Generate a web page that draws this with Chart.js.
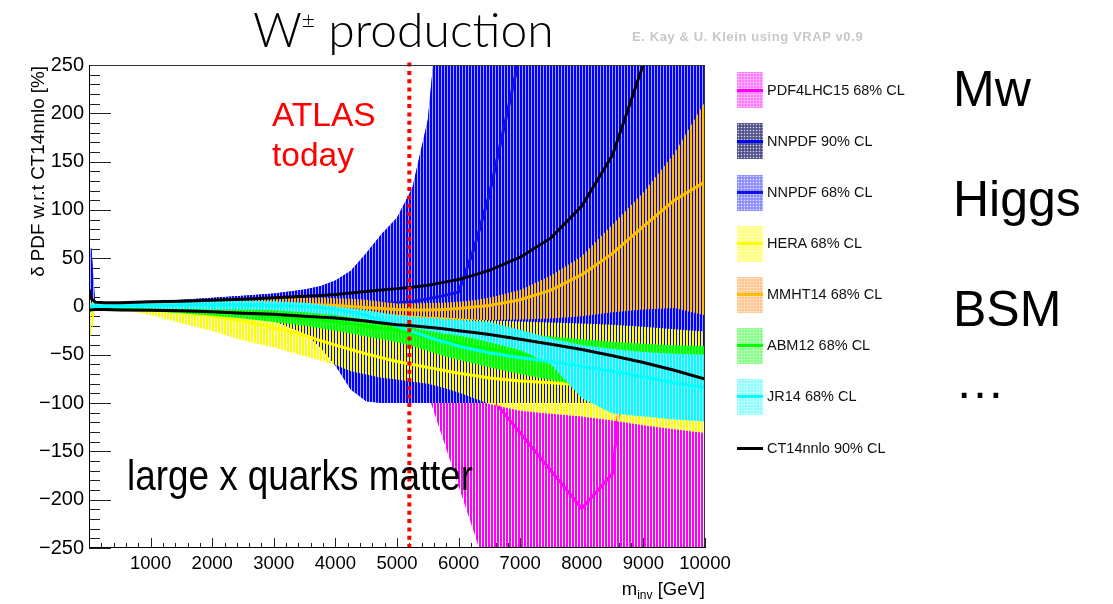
<!DOCTYPE html>
<html>
<head>
<meta charset="utf-8">
<script src="https://cdn.jsdelivr.net/npm/chart.js@4.4.1/dist/chart.umd.min.js"></script>
<style>
html,body{margin:0;padding:0;background:#fff;}
#wrap{position:relative;width:1113px;height:604px;overflow:hidden;font-family:"Liberation Sans",Arial,sans-serif;}
#c{position:absolute;left:0;top:0;}
.t{position:absolute;white-space:nowrap;line-height:1;}
.big{font-size:50px;color:#000;left:953px;}
.sw{position:absolute;left:737px;width:26px;height:36px;}
.sw i{position:absolute;left:0;right:0;top:16.5px;height:3px;}
.lt{position:absolute;left:767px;font-size:14.5px;line-height:1;white-space:nowrap;color:#111;}
</style>
</head>
<body>
<div id="wrap">
<canvas id="c" width="1113" height="604"></canvas>

<div class="t" style="left:253px;top:5px;font-family:Lato,'Open Sans',sans-serif;font-weight:300;font-size:48px;color:#000;">W<span style="font-size:23px;vertical-align:19px;">±</span> production</div>
<div class="t" style="left:632px;top:30px;font-size:13px;letter-spacing:0.6px;font-weight:bold;color:#c8c8c8;">E. Kay &amp; U. Klein using VRAP v0.9</div>

<div class="t big" style="top:63.7px;">Mw</div>
<div class="t big" style="top:173.7px;">Higgs</div>
<div class="t big" style="top:283.7px;">BSM</div>
<div class="t big" style="top:355.7px;left:955px;">…</div>

<div class="t" style="left:272px;top:97.6px;font-size:33.5px;color:#ff0000;">ATLAS</div>
<div class="t" style="left:272px;top:137.6px;font-size:33.5px;color:#ff0000;">today</div>
<div class="t" style="left:127px;top:453.6px;font-size:43px;color:#000;transform:scaleX(0.857);transform-origin:0 0;">large x quarks matter</div>

<div class="t" style="left:0;top:0;width:300px;text-align:right;font-size:18.8px;color:#000;transform:translate(29px,366px) rotate(-90deg);transform-origin:0 0;">δ PDF w.r.t CT14nnlo [%]</div>
<div class="t" style="right:408px;top:580.3px;font-size:18.5px;color:#000;">m<span style="font-size:12px;vertical-align:-4px;">inv</span> [GeV]</div>

<div id="legend"></div>
</div>

<script>
// ---------------- data ----------------
const mass = [0, 40, 100, 250, 500, 1000, 1500, 2000, 2500, 3000, 3500, 3750, 4000, 4250, 4500, 4750, 5000, 5250, 5500, 5750, 6000, 6250, 6500, 7000, 7500, 8000, 8500, 9000, 9500, 10000];

const pdf4lhcUp  = [2, 2, 2, 2, 2.5, 3, 4, 5, 6.5, 8, 10, 11, 12, 14, 16, 18, 20, 25, 30, 35, 40, 48, 55, 70, 85, 100, 125, 150, 175, 200];
const pdf4lhcLo  = [-1, -1, -1, -1, -1.5, -2.5, -3.5, -5, -7, -10, -15, -19, -25, -32, -40, -50, -62, -76, -90, -138, -186, -234, -283, -380, -480, -580, -680, -780, -880, -980];
const pdf4lhcMid = [0, 0, 0, 0, -0.5, -1, -2, -3, -4.5, -6, -8.5, -10, -12, -15, -18, -21, -25, -31, -38, -46, -55, -73, -92, -131, -170, -209, -173, 160, 220, 280];

const nnpdf90Up = [60, 60, 3, 3, 4, 5.5, 7, 9, 11, 13.5, 17.5, 21, 27, 37, 55, 75, 92, 123, 193, 360, 600, 600, 600, 600, 600, 600, 600, 600, 600, 600];
const nnpdf90Lo = [-2, -2, -2, -2, -2, -3, -4, -6, -9, -15, -28, -42, -61, -86, -98, -100, -100, -100, -100, -100, -100, -100, -100, -100, -100, -100, -100, -100, -100, -100];
const nnpdf68Up = [60, 60, 3, 3, 4, 5.5, 7, 9, 11, 13.5, 17.5, 21, 27, 37, 55, 75, 92, 123, 193, 360, 600, 600, 600, 600, 600, 600, 600, 600, 600, 600];
const nnpdf68Lo = [-2, -2, -2, -2, -2, -3, -4, -6, -9, -15, -28, -42, -61, -86, -98, -100, -100, -100, -100, -100, -100, -100, -100, -100, -100, -100, -100, -100, -100, -100];
const nnpdfMid  = [0, 0, 0, 0, 0, 0.5, 1, 1.5, 2, 2.5, 3, 3, 3, 3, 3, 3.5, 4, 5, 8, 11, 15, 60, 116, 262, 450, 600, 600, 600, 600, 600];

const heraUp  = [14, 10, 3, 2, 2, 2, 1.5, 1, 0, -1, -2.5, -3.5, -4.5, -5.5, -6.5, -7.5, -8.5, -9.5, -10.5, -11.5, -12.5, -13.5, -14.5, -15.5, -16.5, -17.5, -19, -21, -23.5, -26];
const heraLo  = [-30, -30, -1, -1.5, -3, -8.9, -17.3, -25.4, -35.2, -42.5, -51.2, -56, -60.5, -67, -70.5, -73.8, -75.5, -78, -80, -84, -89, -95, -101, -108, -111, -114, -118, -123, -127, -131];
const heraMid = [0, 0, 0, -0.5, -1, -3, -6, -10, -15, -22, -30, -35, -40, -44.5, -49, -53, -57, -60, -63, -66, -69, -71.5, -74, -77, -79, -81, -83, -85, -87, -89];

const mmhtUp  = [3, 3, 3, 3, 3, 4, 5, 6, 7.5, 8.5, 9, 9, 8.5, 8, 7, 5, 3, 3, 3.5, 4, 5, 6.5, 9, 17, 32, 52, 85, 118, 158, 212];
const mmhtLo  = [-2, -2, -2, -2, -2, -2, -2, -2, -2, -3, -4, -5, -6, -7, -8, -9, -10, -11, -12, -13, -13.5, -14, -14, -13.5, -12.5, -10, -6, -3, -1.5, -9];
const mmhtMid = [0, 0, 0, 0, 0.5, 1, 1.5, 2, 2.5, 2.5, 2, 1.5, 1, 0, -1, -2, -3, -3.5, -3.5, -3, -2, -0.5, 1, 7, 17, 33, 55, 83, 110, 129];

const abmUp  = [1, 1, 1, 1, 1, 0, -0.5, -1.5, -2.5, -3.5, -5, -6, -7, -8.5, -10, -11.5, -13, -15, -17, -19, -21, -23, -25, -28, -31, -34, -36.5, -38.5, -40, -41];
const abmLo  = [-2, -2, -2, -2.5, -3, -5, -7, -9.5, -12.5, -16, -20, -22.5, -25, -28, -31, -34, -37, -41, -46, -51, -55, -59, -63, -70, -76, -82, -86, -89, -91, -93];
const abmMid = [0, 0, -0.5, -0.5, -1, -2.5, -4, -5.5, -7.5, -10, -12.5, -14, -16, -18, -20.5, -23, -25, -28, -31.5, -35, -38, -41, -44, -49, -53.5, -58, -61, -64, -65.5, -67];

const jrUp  = [3, 4, 4, 4, 4, 5, 5.5, 6, 6, 5.5, 4, 2, 0, -2, -4, -6.5, -9, -10.5, -12, -13, -14, -15, -16, -24, -33, -40, -44, -47, -49, -50];
const jrLo  = [-1, -1, -1, -1, -1.5, -2, -2.5, -3, -3, -4, -6, -7.5, -9, -11, -13.5, -16.5, -19.5, -22, -25, -28, -30, -33, -37, -45, -60, -95, -111, -114, -117, -119];
const jrMid = [0, 0, 0, 0, 0.5, 1, 1.5, 1.5, 1.5, 1, 0, -1, -3, -5.5, -9, -14, -20, -26, -31.5, -36.5, -41, -44.5, -48, -53, -57, -62, -67, -73, -79, -84];

const ct14Up = [18, 8, 4.5, 4, 4, 5, 5.5, 6.5, 7.5, 9, 10.5, 11.5, 12.5, 14, 15.5, 17, 18.5, 20, 22, 25, 28, 32.5, 37.5, 51, 71, 104, 157, 251, 430, 700];
const ct14Lo = [-4, -3.5, -3, -3, -3.5, -4, -4.5, -5.5, -7, -8, -10, -11, -12, -13.5, -15, -17, -19, -20, -21.5, -23, -25, -27, -29, -34, -39, -44.5, -51, -58, -66, -75];

const atlasMass = 5200;            // "ATLAS today" reach
const atlasLineSpan = [-250, 255];

const xTicksMajor = 1000, xTicksMinor = 200;
const yTicksMajor = 50, yTicksMinor = 10;
const xRange = [0, 10000], yRange = [-250, 250];

// ---------------- styling ----------------
const canvas = document.getElementById('c');
const ctx = canvas.getContext('2d');

function stripes(color, gap, phase) {
  const p = document.createElement('canvas');
  p.width = 3; p.height = 4;
  const g = p.getContext('2d');
  g.fillStyle = color; g.fillRect(0, 0, 3, 4);
  g.clearRect(phase, 0, 1, 4);
  if (gap) { g.fillStyle = gap; g.fillRect(phase, 0, 1, 4); }
  return ctx.createPattern(p, 'repeat');
}

const bands = [
  {name: 'PDF4LHC15 68% CL', lo: pdf4lhcLo, hi: pdf4lhcUp, mid: pdf4lhcMid, stripe: '#ff00ff', gap: null, phase: 1, line: '#ff00ff', sw: '#ff80ff'},
  {name: 'NNPDF 90% CL', lo: nnpdf90Lo, hi: nnpdf90Up, mid: null, stripe: '#1a1a80', gap: '#5a5aa8', phase: 0, line: '#0000ff', sw: '#50508a'},
  {name: 'NNPDF 68% CL', lo: nnpdf68Lo, hi: nnpdf68Up, mid: nnpdfMid, stripe: '#0000ff', gap: '#a8a8ff', phase: 0, line: '#1010e8', sw: '#8c8cff'},
  {name: 'HERA 68% CL', lo: heraLo, hi: heraUp, mid: heraMid, stripe: '#ffff00', gap: null, phase: 1, line: '#ffff00', sw: '#ffff80'},
  {name: 'MMHT14 68% CL', lo: mmhtLo, hi: mmhtUp, mid: mmhtMid, stripe: '#ffbf00', gap: null, phase: 2, line: '#ffbf00', sw: '#ffc890'},
  {name: 'ABM12 68% CL', lo: abmLo, hi: abmUp, mid: abmMid, stripe: '#00ff00', gap: '#50ff50', phase: 2, line: '#00ff00', sw: '#88ff88'},
  {name: 'JR14 68% CL', lo: jrLo, hi: jrUp, mid: jrMid, stripe: '#00ffff', gap: '#a8e4ff', phase: 0, line: '#00ffff', sw: '#90ffff'}
];

const pts = arr => mass.map((m, i) => ({x: m, y: arr[i]}));
const datasets = [];
const clear = 'rgba(0,0,0,0)';
bands.forEach(b => {
  datasets.push({label: b.name + ' lower', data: pts(b.lo), borderColor: clear, borderWidth: 0, fill: false});
  datasets.push({label: b.name, data: pts(b.hi), borderColor: clear, borderWidth: 0, fill: '-1',
                 backgroundColor: stripes(b.stripe, b.gap, b.phase)});
  if (b.mid) datasets.push({label: b.name + ' central', data: pts(b.mid), borderColor: b.line, borderWidth: 3, fill: false});
});
datasets.push({label: 'CT14nnlo 90% CL upper', data: pts(ct14Up), borderColor: '#000', borderWidth: 3, fill: false});
datasets.push({label: 'CT14nnlo 90% CL lower', data: pts(ct14Lo), borderColor: '#000', borderWidth: 3, fill: false});
datasets.push({label: 'ATLAS today', data: atlasLineSpan.map(v => ({x: atlasMass, y: v})),
               borderColor: '#ff0000', borderWidth: 4, borderDash: [4, 4.3], borderCapStyle: 'butt', fill: false, clip: false});
datasets.forEach((d, i) => { d.order = 1000 - i; d.pointRadius = 0; d.tension = 0; });

// inward ROOT-style ticks
const rootTicks = {
  id: 'rootTicks',
  beforeDatasetsDraw(chart) {
    const {ctx, chartArea: a, scales: {x, y}} = chart;
    ctx.save();
    ctx.strokeStyle = '#222'; ctx.lineWidth = 1;
    ctx.beginPath();
    for (let v = yRange[0]; v <= yRange[1]; v += yTicksMinor) {
      const py = Math.round(y.getPixelForValue(v)) + 0.5;
      const len = (v % yTicksMajor === 0) ? 22 : 11;
      ctx.moveTo(a.left, py); ctx.lineTo(a.left + len, py);
    }
    for (let v = xRange[0]; v <= xRange[1]; v += xTicksMinor) {
      const px = Math.round(x.getPixelForValue(v)) + 0.5;
      const len = (v % xTicksMajor === 0) ? 10 : 5;
      ctx.moveTo(px, a.bottom); ctx.lineTo(px, a.bottom - len);
    }
    ctx.stroke();
    ctx.restore();
  },
  afterDraw(chart) {
    const {ctx, chartArea: a} = chart;
    ctx.save();
    ctx.strokeStyle = '#333'; ctx.lineWidth = 1;
    ctx.beginPath();
    ctx.moveTo(a.left, a.top + 0.5); ctx.lineTo(a.right, a.top + 0.5);
    ctx.moveTo(a.right - 0.5, a.top); ctx.lineTo(a.right - 0.5, a.bottom);
    ctx.stroke();
    ctx.strokeStyle = '#000';
    ctx.beginPath();
    ctx.moveTo(a.left + 0.5, a.top); ctx.lineTo(a.left + 0.5, a.bottom);
    ctx.moveTo(a.left, a.bottom - 0.5); ctx.lineTo(a.right, a.bottom - 0.5);
    ctx.stroke();
    ctx.restore();
  }
};

const xTickFont = {family: "'Liberation Sans', Arial, sans-serif", size: 18.5};
const yTickFont = {family: "'Liberation Sans', Arial, sans-serif", size: 20};
new Chart(ctx, {
  type: 'line',
  data: {datasets},
  options: {
    responsive: false, animation: false, devicePixelRatio: 1, events: [],
    layout: {padding: {left: 0, top: 65, right: 408, bottom: 0}},
    plugins: {legend: {display: false}, tooltip: {enabled: false}, title: {display: false}},
    scales: {
      x: {type: 'linear', min: xRange[0], max: xRange[1],
          afterFit: s => { s.height = 56; },
          grid: {drawOnChartArea: false, drawTicks: false},
          border: {display: false},
          ticks: {stepSize: xTicksMajor, autoSkip: false, maxRotation: 0, padding: 5, color: '#000', font: xTickFont,
                  callback: v => v === 0 ? '' : String(v)}},
      y: {type: 'linear', min: yRange[0], max: yRange[1],
          afterFit: s => { s.width = 89; },
          grid: {drawOnChartArea: false, drawTicks: false},
          border: {display: false},
          ticks: {stepSize: yTicksMajor, autoSkip: false, padding: 5, color: '#000', font: yTickFont,
                  callback: v => v < 0 ? '\u2212' + Math.abs(v) : String(v)}}
    }
  },
  plugins: [rootTicks]
});

// legend (HTML text)
const legendY = [90, 141, 192.5, 243.5, 294.5, 345.5, 396.5, 448];
const leg = document.getElementById('legend');
bands.forEach((b, i) => {
  const yc = legendY[i];
  const sw = document.createElement('div');
  sw.className = 'sw';
  sw.style.top = (yc - 18) + 'px';
  sw.style.background = `radial-gradient(circle, rgba(255,255,255,0.75) 0.7px, rgba(255,255,255,0) 1.1px) 0 0/3px 3px, ${b.sw}`;
  sw.innerHTML = `<i style="background:${b.line}"></i>`;
  leg.appendChild(sw);
  const t = document.createElement('div');
  t.className = 'lt'; t.style.top = (yc - 7.1) + 'px'; t.textContent = b.name;
  leg.appendChild(t);
});
{
  const yc = legendY[7];
  const sw = document.createElement('div');
  sw.className = 'sw'; sw.style.top = (yc - 18) + 'px';
  sw.innerHTML = '<i style="background:#000"></i>';
  leg.appendChild(sw);
  const t = document.createElement('div');
  t.className = 'lt'; t.style.top = (yc - 7.1) + 'px'; t.textContent = 'CT14nnlo 90% CL';
  leg.appendChild(t);
}
</script>
</body>
</html>
